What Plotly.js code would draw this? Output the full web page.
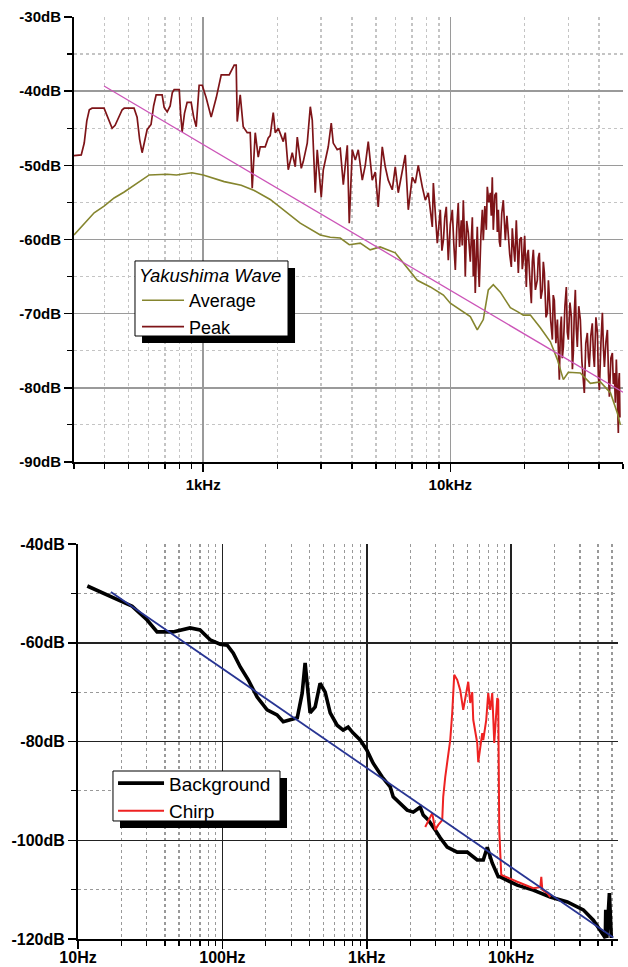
<!DOCTYPE html>
<html>
<head>
<meta charset="utf-8">
<script src="https://cdn.plot.ly/plotly-3.0.1.min.js"></script>
<style>html,body{margin:0;padding:0;background:#fff;}#chart{width:628px;height:967px;}</style>
</head>
<body>
<div id="chart"></div>
<script>
// ---------- Top chart: Yakushima Wave ----------
const peakHz = [300,321,330,338,346,355,397,410,428,440,457,470,479,525,540,553,566,578,593,615,630,645,682,695,715,735,750,763,800,810,822,840,861,894,915,937,950,963,991,1028,1077,1129,1183,1274,1335,1360,1373,1412,1452,1507,1550,1579,1624,1670,1701,1782,1833,1867,1921,1957,2013,2109,2148,2209,2293,2358,2403,2494,2541,2637,2713,2763,2841,2894,3004,3062,3207,3298,3360,3487,3586,3690,3830,3901,4012,4126,4242,4404,4528,4656,4832,4970,5110,5305,5456,5610,5823,5988,6158,6392,6574,6761,7018,7217,7420,7703,7922,8146,8456,8540,8859,
  9110,9250,9380,9500,9634,9720,9815,10000,10190,10330,10480,10620,10770,10900,11080,11180,11290,11400,11500,11650,11830,12050,12280,12390,12500,12620,12740,12860,12980,13100,13300,13480,13600,13800,13990,14120,14320,14520,14650,14790,14930,15150,15360,15500,15650,15800,15940,16150,16390,16550,16700,16950,17170,17400,17660,17820,17990,18250,18500,18680,18850,19100,19390,19560,19750,20000,20310,20500,20690,21000,21280,21480,21680,22100,22500,22700,22930,23250,23580,23800,24030,24400,24710,24950,25180,25500,25890,26100,26370,26750,27130,27400,27630,27900,28150,28400,28680,29100,29490,29750,30040,30500,30900,31200,31470,31750,32070,32350,32670,33100,33600,34100,34550,34870,35350,35860,36200,36530,37050,37560,37950,38300,38850,39400,39750,40120,40700,41260,41650,42040,42650,43230,43650,44040,44650,45280,45700,46130,46550,46990,47400,47870,48100,48320,48600];
const peakDb = [-48.7,-48.6,-47.0,-44.0,-42.5,-42.3,-42.3,-43.5,-45.0,-44.6,-43.5,-42.5,-42.3,-42.3,-43.5,-46.5,-48.3,-47.0,-45.2,-44.5,-42.0,-40.5,-40.5,-42.2,-42.8,-42.0,-40.2,-39.8,-39.8,-43.0,-45.5,-43.0,-41.5,-41.5,-43.5,-44.8,-41.5,-39.2,-39.2,-40.9,-43.5,-40.9,-37.8,-37.8,-36.5,-36.5,-44.1,-40.5,-44.8,-45.6,-45.6,-53.1,-45.6,-48.9,-47.5,-47.5,-46.3,-46.0,-42.9,-45.6,-45.0,-46.8,-45.6,-50.6,-48.3,-50.2,-46.2,-50.4,-49.5,-47.0,-42.1,-43.9,-53.7,-47.9,-54.3,-50.6,-47.5,-44.3,-47.0,-47.9,-47.7,-52.6,-47.3,-57.8,-47.9,-49.3,-47.9,-52.0,-50.0,-46.8,-52.0,-50.9,-55.6,-47.5,-50.2,-52.0,-53.3,-50.2,-53.7,-50.6,-48.6,-56.0,-51.6,-52.4,-50.0,-52.9,-54.7,-53.7,-58.3,-52.4,-60.5,
  -56.0,-61.5,-60.1,-57.0,-55.6,-59.5,-62.8,-58.0,-56.0,-60.5,-64.1,-58.5,-55.1,-61.0,-57.4,-60.8,-54.7,-59.0,-65.0,-57.5,-59.1,-63.0,-57.0,-65.0,-60.0,-67.2,-61.5,-58.3,-63.5,-66.4,-59.5,-56.0,-60.1,-55.5,-58.7,-52.9,-55.0,-53.7,-56.8,-51.6,-58.7,-54.0,-53.7,-59.0,-56.0,-60.3,-61.0,-56.5,-54.7,-58.8,-60.1,-56.8,-59.7,-62.0,-63.7,-58.5,-60.5,-63.0,-57.4,-61.5,-64.5,-60.0,-59.7,-64.0,-62.8,-59.5,-66.4,-62.0,-61.4,-65.5,-68.6,-63.0,-61.4,-66.8,-65.5,-62.5,-61.8,-68.0,-66.8,-63.0,-64.5,-70.5,-69.9,-65.5,-68.2,-71.0,-73.5,-67.5,-68.2,-74.0,-70.8,-74.5,-78.9,-72.0,-70.4,-76.0,-74.5,-69.0,-66.4,-72.5,-73.5,-68.5,-70.4,-77.5,-75.3,-70.0,-66.8,-72.0,-74.5,-69.0,-70.8,-76.5,-79.3,-80.7,-74.0,-72.6,-75.8,-77.2,-73.0,-71.3,-75.5,-77.2,-70.5,-72.6,-78.5,-80.3,-74.0,-69.9,-74.5,-77.2,-73.8,-72.2,-78.0,-81.2,-76.0,-75.3,-79.5,-78.0,-82.0,-76.2,-80.5,-86.1,-79.0,-78.0,-84.0];

const avgHz = [300,330,362,397,436,479,525,577,605,715,780,900,1000,1216,1425,1609,1867,2470,2978,3267,3586,3901,4323,4740,5200,5988,6460,7350,8300,9380,10000,10980,12050,12860,13600,14250,14930,15940,17500,18850,19750,21090,23150,25410,27130,28680,30040,33600,36900,40500,44500,47430,48800];
const avgDb = [-59.4,-57.8,-56.4,-55.5,-54.4,-53.6,-52.7,-51.7,-51.3,-51.2,-51.3,-51.0,-51.3,-52.2,-52.7,-53.4,-54.6,-57.8,-59.4,-59.7,-59.8,-60.7,-60.5,-61.4,-61.0,-61.8,-63.2,-65.5,-66.4,-67.5,-68.6,-69.5,-70.4,-72.2,-70.8,-66.8,-66.1,-67.1,-69.2,-69.8,-70.2,-70.2,-71.9,-73.8,-76.2,-78.9,-77.9,-78.0,-79.4,-79.2,-80.7,-83.4,-85.0];

const fitTopHz = [397, 50000];
const fitTopDb = [-39.3, -80.6];

const topXTickVals = [1000, 10000];
const topXTickText = ['1kHz', '10kHz'];
const topXMinor = [300,400,500,600,700,800,900,2000,3000,4000,5000,6000,7000,8000,9000,20000,30000,40000,50000];
const topYTickVals = [-90,-80,-70,-60,-50,-40,-30];
const topYTickText = ['-90dB','-80dB','-70dB','-60dB','-50dB','-40dB','-30dB'];
const topYMinor = [-85,-75,-65,-55,-45,-35];

// ---------- Bottom chart: Background / Chirp ----------
const bgHz = [11.6,16.7,23.7,30.1,35.3,45.5,59.7,70.0,82.2,96.4,108,119,133,151,174,204,239,264,295,330,357,374,405,439,475,515,558,623,686,743,805,900,1000,1107,1279,1453,1524,1703,1905,2098,2345,2460,2665,2980,3225,3605,4230,4960,5820,6410,6830,7390,8140,8400,11010,14220,18660,24500,31600,37100,41500,44900,45200,46000,47900,49400];
const bgDb = [-48.5,-50.5,-52.6,-55.4,-57.8,-57.8,-57.0,-57.4,-59.4,-60.3,-60.5,-62.1,-64.9,-67.5,-71.0,-73.6,-74.6,-76.0,-75.6,-75.2,-70.2,-64.1,-74.2,-73.0,-68.2,-70.0,-74.2,-76.7,-77.7,-77.1,-78.3,-79.7,-81.7,-84.4,-87.2,-89.2,-91.2,-92.5,-93.9,-94.3,-93.3,-94.9,-95.9,-97.9,-99.5,-101.4,-102.4,-102.4,-104.0,-104.0,-101.4,-104.6,-107.4,-107.4,-109.1,-110.1,-111.5,-112.5,-114.1,-116.2,-118.2,-119.8,-114.1,-119.8,-110.7,-119.8];

const chirpHz = [2540,2840,2979,3125,3331,3384,3494,3665,3784,3907,4033,4231,4439,4656,4808,5043,5207,5376,5463,5821,5916,6107,6305,6407,6721,6938,7163,7396,7636,8011,8138,8268,8537,11020,14230,15910,16170,16430,17790,18660];
const chirpDb = [-97.3,-94.5,-97.9,-96.9,-95.9,-91.2,-87.2,-83.1,-79.7,-74.2,-66.5,-67.5,-69.6,-73.6,-71.0,-67.9,-72.2,-70.0,-75.6,-80.3,-84.2,-81.7,-78.3,-79.7,-75.6,-70.2,-73.6,-70.2,-80.3,-71.2,-71.6,-97.9,-107.0,-108.4,-109.7,-109.5,-107.4,-110.0,-110.7,-111.5];

const fitBotHz = [16.9, 51000];
const fitBotDb = [-49.7, -119.7];

const botXTickVals = [10, 100, 1000, 10000];
const botXTickText = ['10Hz', '100Hz', '1kHz', '10kHz'];
const botXMinor = [20,30,40,50,60,70,80,90,200,300,400,500,600,700,800,900,2000,3000,4000,5000,6000,7000,8000,9000,20000,30000,40000,50000];
const botYTickVals = [-120,-100,-80,-60,-40];
const botYTickText = ['-120dB','-100dB','-80dB','-60dB','-40dB'];
const botYMinor = [-110,-90,-70,-50];

const FONT = 'Liberation Sans, Arial, Helvetica, sans-serif';

const traces = [
  {x: peakHz, y: peakDb, type: 'scatter', mode: 'lines', name: 'Peak',
   line: {color: '#7e1418', width: 1.7}, xaxis: 'x', yaxis: 'y', legend: 'legend'},
  {x: avgHz, y: avgDb, type: 'scatter', mode: 'lines', name: 'Average',
   line: {color: '#85852e', width: 1.6}, xaxis: 'x', yaxis: 'y', legend: 'legend'},
  {x: fitTopHz, y: fitTopDb, type: 'scatter', mode: 'lines', name: 'fit', showlegend: false,
   line: {color: '#cc55b8', width: 1.3}, xaxis: 'x', yaxis: 'y'},
  {x: bgHz, y: bgDb, type: 'scatter', mode: 'lines', name: 'Background',
   line: {color: '#000000', width: 3.6}, xaxis: 'x2', yaxis: 'y2', legend: 'legend2'},
  {x: chirpHz, y: chirpDb, type: 'scatter', mode: 'lines', name: 'Chirp',
   line: {color: '#ee2222', width: 2}, xaxis: 'x2', yaxis: 'y2', legend: 'legend2'},
  {x: fitBotHz, y: fitBotDb, type: 'scatter', mode: 'lines', name: 'fit2', showlegend: false,
   line: {color: '#283593', width: 1.8}, xaxis: 'x2', yaxis: 'y2'}
];

const tickFont = {family: FONT, size: 15, color: '#000', weight: 'bold'};
const tickFont2 = {family: FONT, size: 16, color: '#000', weight: 'bold'};

const layout = {
  width: 628, height: 967,
  margin: {l: 74, r: 5, t: 17, b: 28},
  paper_bgcolor: '#fff', plot_bgcolor: '#fff',
  font: {family: FONT, color: '#000'},
  xaxis: {
    type: 'log', range: [Math.log10(300), Math.log10(50000)], anchor: 'y', domain: [0, 1],
    tickmode: 'array', tickvals: topXTickVals, ticktext: topXTickText,
    ticks: 'outside', ticklen: 8, tickwidth: 1.5, tickcolor: '#000',
    showline: true, linecolor: '#000', linewidth: 2,
    showgrid: true, gridcolor: '#9a9a9a', gridwidth: 1.5, zeroline: false,
    tickfont: tickFont,
    minor: {tickmode: 'array', tickvals: topXMinor, ticks: 'outside', ticklen: 5, tickwidth: 1.2, tickcolor: '#000',
            showgrid: true, gridcolor: '#c4c4c4', griddash: 'dot', gridwidth: 1.2}
  },
  yaxis: {
    range: [-90, -30], domain: [0.5174, 1], anchor: 'x',
    tickmode: 'array', tickvals: topYTickVals, ticktext: topYTickText,
    ticks: 'outside', ticklen: 8, tickwidth: 1.5, tickcolor: '#000',
    showline: true, linecolor: '#000', linewidth: 2,
    showgrid: true, gridcolor: '#9a9a9a', gridwidth: 1.5, zeroline: false,
    tickfont: tickFont,
    minor: {tickmode: 'array', tickvals: topYMinor, ticks: 'outside', ticklen: 5, tickwidth: 1.2, tickcolor: '#000',
            showgrid: true, gridcolor: '#c4c4c4', griddash: 'dot', gridwidth: 1.2}
  },
  xaxis2: {
    type: 'log', range: [1, 4.74], anchor: 'y2', domain: [0.0073, 0.9909],
    tickmode: 'array', tickvals: botXTickVals, ticktext: botXTickText,
    ticks: 'outside', ticklen: 8, tickwidth: 1.5, tickcolor: '#000', ticklabelstandoff: -5,
    showline: true, linecolor: '#000', linewidth: 2,
    showgrid: true, gridcolor: '#222', gridwidth: 1.5, zeroline: false,
    tickfont: tickFont2,
    minor: {tickmode: 'array', tickvals: botXMinor, ticks: 'outside', ticklen: 5, tickwidth: 1.2, tickcolor: '#000',
            showgrid: true, gridcolor: '#999', griddash: 'dot', gridwidth: 1.2}
  },
  yaxis2: {
    range: [-120, -40], domain: [0, 0.4284], anchor: 'x2',
    tickmode: 'array', tickvals: botYTickVals, ticktext: botYTickText,
    ticks: 'outside', ticklen: 8, tickwidth: 1.5, tickcolor: '#000',
    showline: true, linecolor: '#000', linewidth: 2,
    showgrid: true, gridcolor: '#222', gridwidth: 1.5, zeroline: false,
    tickfont: tickFont2,
    minor: {tickmode: 'array', tickvals: botYMinor, ticks: 'outside', ticklen: 5, tickwidth: 1.2, tickcolor: '#000',
            showgrid: true, gridcolor: '#999', griddash: 'dot', gridwidth: 1.2}
  },
  legend: {
    x: 0.1148, y: 0.7386, xanchor: 'left', yanchor: 'top',
    bgcolor: 'rgba(0,0,0,0)', borderwidth: 0,
    font: {family: FONT, size: 18, color: '#000'},
    title: {text: '<i>Yakushima Wave</i>', font: {family: FONT, size: 18.5, color: '#000'}},
    traceorder: 'reversed', itemwidth: 42, tracegroupgap: 0
  },
  legend2: {
    x: 0.0711, y: 0.1895, xanchor: 'left', yanchor: 'top',
    bgcolor: 'rgba(0,0,0,0)', borderwidth: 0,
    font: {family: FONT, size: 19, color: '#000'},
    traceorder: 'normal', itemwidth: 46, tracegroupgap: 0
  },
  shapes: [
    // legend 1 shadow + box
    {type: 'rect', xref: 'paper', yref: 'paper', x0: 0.1239, x1: 0.4026, y0: 0.6464, y1: 0.7278,
     fillcolor: '#000', line: {width: 0}, layer: 'above'},
    {type: 'rect', xref: 'paper', yref: 'paper', x0: 0.1111, x1: 0.3898, y0: 0.6540, y1: 0.7354,
     fillcolor: '#fff', line: {width: 1, color: '#000'}, layer: 'above'},
    // legend 2 shadow + box
    {type: 'rect', xref: 'paper', yref: 'paper', x0: 0.0838, x1: 0.3880, y0: 0.1204, y1: 0.1746,
     fillcolor: '#000', line: {width: 0}, layer: 'above'},
    {type: 'rect', xref: 'paper', yref: 'paper', x0: 0.0710, x1: 0.3752, y0: 0.1280, y1: 0.1822,
     fillcolor: '#fff', line: {width: 1, color: '#000'}, layer: 'above'}
  ],
  showlegend: true
};

Plotly.newPlot('chart', traces, layout, {displayModeBar: false, staticPlot: true});
</script>
</body>
</html>
